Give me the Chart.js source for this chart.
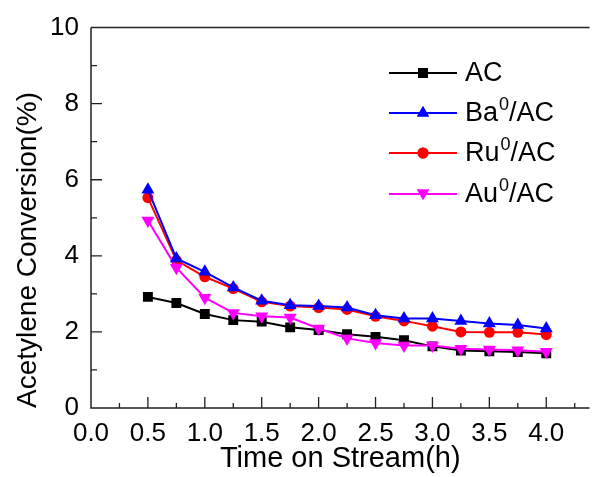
<!DOCTYPE html>
<html>
<head>
<meta charset="utf-8">
<script src="https://cdn.jsdelivr.net/npm/chart.js@4.4.1/dist/chart.umd.min.js"></script>
<style>
  html, body { margin: 0; padding: 0; background: #fff; }
  #wrap { width: 597px; height: 477px; }
</style>
</head>
<body>
<div id="wrap"><canvas id="chart" width="597" height="477"></canvas></div>
<script>
// time on stream (h)
const times = [0.5, 0.75, 1.0, 1.25, 1.5, 1.75, 2.0, 2.25, 2.5, 2.75, 3.0, 3.25, 3.5, 3.75, 4.0];

// acetylene conversion (%)
const acValues = [2.92, 2.76, 2.47, 2.31, 2.27, 2.12, 2.05, 1.94, 1.87, 1.78, 1.62, 1.51, 1.49, 1.47, 1.44];
const baValues = [5.74, 3.93, 3.58, 3.17, 2.82, 2.70, 2.68, 2.64, 2.44, 2.35, 2.35, 2.29, 2.22, 2.18, 2.09];
const ruValues = [5.53, 3.88, 3.45, 3.14, 2.79, 2.68, 2.64, 2.59, 2.41, 2.29, 2.15, 2.00, 1.99, 1.99, 1.93];
const auValues = [4.93, 3.69, 2.90, 2.50, 2.41, 2.38, 2.09, 1.83, 1.71, 1.64, 1.64, 1.56, 1.54, 1.52, 1.48];

const xTickLabels = ["0.0", "0.5", "1.0", "1.5", "2.0", "2.5", "3.0", "3.5", "4.0"];
const yTickLabels = ["0", "2", "4", "6", "8", "10"];
const yTitle = "Acetylene Conversion(%)";

const legendItems = [
  { base: "AC", sup: "", color: "#000000", style: "rect", rot: 0 },
  { base: "Ba", sup: "0", color: "#0000ff", style: "triangle", rot: 0 },
  { base: "Ru", sup: "0", color: "#ff0000", style: "circle", rot: 0 },
  { base: "Au", sup: "0", color: "#ff00ff", style: "triangle", rot: 180 },
];

const FONT = "'Liberation Sans', Arial, sans-serif";

function toPoints(values) {
  return times.map((t, i) => ({ x: t, y: values[i] }));
}

function makeDataset(label, values, color, style, radius, rotation) {
  return {
    label: label,
    data: toPoints(values),
    borderColor: color,
    backgroundColor: color,
    borderWidth: 2,
    pointStyle: style,
    pointRadius: radius,
    pointRotation: rotation,
    pointBorderWidth: 0,
    pointBackgroundColor: color,
    tension: 0,
  };
}

// axis frame, inward ticks, y title and the legend
const framePlugin = {
  id: "frame",
  afterDraw(chart) {
    const ctx = chart.ctx;
    const area = chart.chartArea;
    const xs = chart.scales.x;
    const ys = chart.scales.y;
    ctx.save();
    ctx.strokeStyle = "#222";
    ctx.lineWidth = 1.5;
    ctx.beginPath();
    ctx.moveTo(area.left, area.top);
    ctx.lineTo(area.right, area.top);
    ctx.moveTo(area.left, area.top);
    ctx.lineTo(area.left, area.bottom);
    ctx.lineTo(area.right, area.bottom);
    ctx.stroke();

    ctx.lineWidth = 1.3;
    ctx.beginPath();
    for (let v = 0.25; v <= 4.3; v += 0.25) {
      const px = xs.getPixelForValue(v);
      const len = Math.abs((v / 0.5) - Math.round(v / 0.5)) < 1e-6 ? 11 : 5;
      ctx.moveTo(px, area.bottom);
      ctx.lineTo(px, area.bottom - len);
    }
    for (let v = 1; v < 10; v += 1) {
      const py = ys.getPixelForValue(v);
      const len = v % 2 === 0 ? 11 : 6;
      ctx.moveTo(area.left, py);
      ctx.lineTo(area.left + len, py);
    }
    ctx.stroke();

    // y axis title, a bit below the middle of the plot like the original
    ctx.save();
    ctx.translate(28, 250);
    ctx.rotate(-Math.PI / 2);
    ctx.fillStyle = "#000";
    ctx.font = "28px " + FONT;
    ctx.textAlign = "center";
    ctx.textBaseline = "middle";
    ctx.fillText(yTitle, 0, 0);
    ctx.restore();

    // legend
    const rowY = [73, 113, 153, 194];
    legendItems.forEach((item, i) => {
      const y = rowY[i];
      ctx.strokeStyle = item.color;
      ctx.lineWidth = 2;
      ctx.beginPath();
      ctx.moveTo(389, y);
      ctx.lineTo(457, y);
      ctx.stroke();
      ctx.fillStyle = item.color;
      Chart.helpers.drawPoint(ctx, {
        pointStyle: item.style,
        radius: item.style === "circle" ? 5.5 : 7,
        rotation: item.rot,
        borderWidth: 0,
      }, 423, y + (item.rot ? -1 : 0));
      ctx.fill();

      ctx.fillStyle = "#000";
      ctx.textBaseline = "middle";
      ctx.textAlign = "left";
      ctx.font = "27px " + FONT;
      ctx.fillText(item.base, 465, y + 1);
      let x = 465 + ctx.measureText(item.base).width;
      if (item.sup) {
        ctx.font = "18px " + FONT;
        ctx.fillText(item.sup, x + 1, y - 8);
        x += ctx.measureText(item.sup).width + 1;
        ctx.font = "27px " + FONT;
        ctx.fillText("/AC", x, y + 1);
      }
    });
    ctx.restore();
  },
};

new Chart(document.getElementById("chart"), {
  type: "line",
  data: {
    datasets: [
      makeDataset("Ba0/AC", baValues, "#0000ff", "triangle", 7.5, 0),
      makeDataset("Au0/AC", auValues, "#ff00ff", "triangle", 7.5, 180),
      makeDataset("Ru0/AC", ruValues, "#ff0000", "circle", 5.5, 0),
      makeDataset("AC", acValues, "#000000", "rect", 7, 0),
    ],
  },
  options: {
    responsive: false,
    animation: false,
    layout: { padding: { top: 27, right: 0, left: 0, bottom: 0 } },
    plugins: {
      legend: { display: false },
      tooltip: { enabled: false },
    },
    scales: {
      x: {
        type: "linear",
        min: 0,
        max: 4.38,
        afterBuildTicks(scale) {
          scale.ticks = xTickLabels.map((s) => ({ value: parseFloat(s) }));
        },
        afterFit(scale) { scale.height = 69; },
        grid: { display: false, drawTicks: false },
        border: { display: false },
        ticks: {
          padding: 10,
          color: "#000",
          font: { family: FONT, size: 26 },
          maxRotation: 0,
          autoSkip: false,
          callback: (v) => v.toFixed(1),
        },
        title: {
          display: true,
          text: "Time on Stream(h)",
          color: "#000",
          font: { family: FONT, size: 29, lineHeight: 1.1 },
          padding: { top: 0, bottom: 2 },
        },
      },
      y: {
        min: 0,
        max: 10,
        afterBuildTicks(scale) {
          scale.ticks = yTickLabels.map((s) => ({ value: parseFloat(s) }));
        },
        afterFit(scale) { scale.width = 91; },
        grid: { display: false, drawTicks: false },
        border: { display: false },
        ticks: {
          padding: 12,
          color: "#000",
          font: { family: FONT, size: 26 },
          autoSkip: false,
          callback: (v) => String(v),
        },
      },
    },
  },
  plugins: [framePlugin],
});
</script>
</body>
</html>
